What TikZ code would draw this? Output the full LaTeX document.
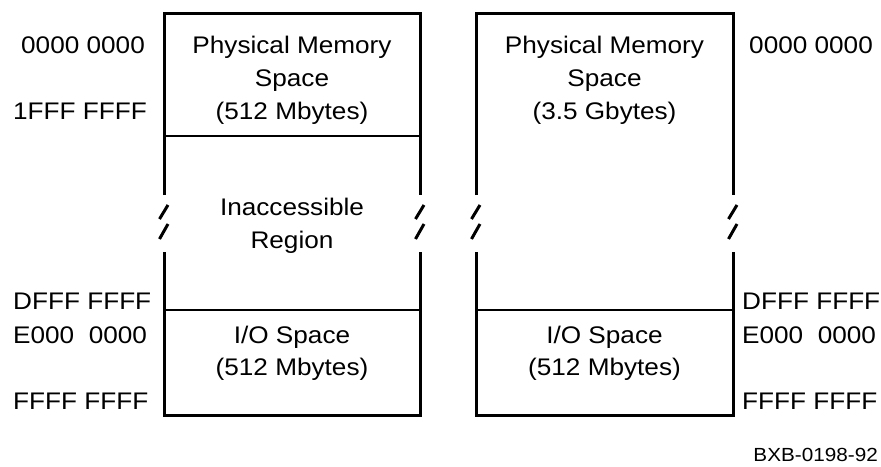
\documentclass[tikz,border=0pt]{standalone}
\usepackage{fontspec}
\setmainfont{Liberation Sans}[FakeStretch=1.09]
\begin{document}
\begin{tikzpicture}[x=1pt,y=-1pt,
  lbl/.style={anchor=base west, inner sep=0pt, font=\fontsize{24}{29}\selectfont},
  txt/.style={anchor=base, inner sep=0pt, font=\fontsize{24}{29}\selectfont},
  wall/.style={line width=3pt, line join=miter},
  divider/.style={line width=1.2pt},
  brk/.style={line width=3pt}]
\useasboundingbox (0,0) rectangle (881,466);
% left box
\draw[wall] (164,195) -- (164,13) -- (420,13) -- (420,195);
\draw[wall] (164,252) -- (164,415) -- (420,415) -- (420,252);
\draw[divider] (164,136) -- (420,136);
\draw[divider] (164,310) -- (420,310);
% right box
\draw[wall] (476,195) -- (476,13) -- (733,13) -- (733,195);
\draw[wall] (476,252) -- (476,415) -- (733,415) -- (733,252);
\draw[divider] (476,310) -- (733,310);
% break marks
\foreach \x in {164,420,476,733}{
  \draw[brk] (\x-4.5,219) -- (\x+4,205);
  \draw[brk] (\x-4.5,239) -- (\x+4,224);
}
% left addresses
\node[lbl] (la0) at (21,53) {0000 0000};
\node[lbl] (la1) at (13,119) {1FFF FFFF};
\node[lbl] (la2) at (13,309) {DFFF FFFF};
\node[lbl] (la3) at (13,343) {E000~~0000};
\node[lbl] (la4) at (13,409) {FFFF FFFF};
% right addresses
\node[lbl] (ra0) at (749,53) {0000 0000};
\node[lbl] (ra2) at (742,309) {DFFF FFFF};
\node[lbl] (ra3) at (742,343) {E000~~0000};
\node[lbl] (ra4) at (742,409) {FFFF FFFF};
% left box texts
\node[txt] (lp1) at (292,53) {Physical Memory};
\node[txt] (lp2) at (292,86) {Space};
\node[txt] (lp3) at (292,119) {(512 Mbytes)};
\node[txt] (li1) at (292,215) {Inaccessible};
\node[txt] (li2) at (292,248) {Region};
\node[txt] (lo1) at (292,343) {I/O Space};
\node[txt] (lo2) at (292,375) {(512 Mbytes)};
% right box texts
\node[txt] (rp1) at (604.5,53) {Physical Memory};
\node[txt] (rp2) at (604.5,86) {Space};
\node[txt] (rp3) at (604.5,119) {(3.5 Gbytes)};
\node[txt] (ro1) at (604.5,343) {I/O Space};
\node[txt] (ro2) at (604.5,375) {(512 Mbytes)};
% figure id
\node[anchor=base east, inner sep=0pt, font=\fontsize{19}{23}\selectfont] (fid) at (878,461) {BXB-0198-92};
\end{tikzpicture}
\end{document}
